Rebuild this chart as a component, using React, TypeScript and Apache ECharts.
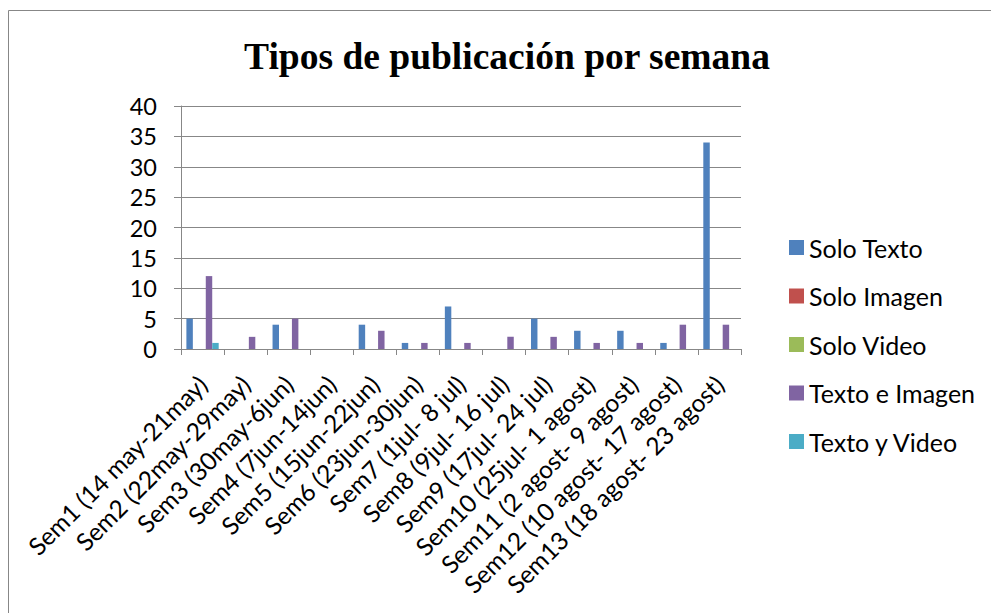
import React, { useEffect, useRef } from "react";
import * as echarts from "echarts";

const categories = [
  "Sem1 (14 may-21may)",
  "Sem2 (22may-29may)",
  "Sem3 (30may-6jun)",
  "Sem4 (7jun-14jun)",
  "Sem5 (15jun-22jun)",
  "Sem6 (23jun-30jun)",
  "Sem7 (1jul- 8 jul)",
  "Sem8 (9jul- 16 jul)",
  "Sem9 (17jul- 24 jul)",
  "Sem10 (25jul- 1 agost)",
  "Sem11 (2 agost- 9 agost)",
  "Sem12 (10 agost- 17 agost)",
  "Sem13 (18 agost- 23 agost)",
];

const soloTexto = [5, 0, 4, 0, 4, 1, 7, 0, 5, 3, 3, 1, 34];
const soloImagen = [0, 0, 0, 0, 0, 0, 0, 0, 0, 0, 0, 0, 0];
const soloVideo = [0, 0, 0, 0, 0, 0, 0, 0, 0, 0, 0, 0, 0];
const textoEImagen = [12, 2, 5, 0, 3, 1, 1, 2, 2, 1, 1, 4, 4];
const textoYVideo = [1, 0, 0, 0, 0, 0, 0, 0, 0, 0, 0, 0, 0];

const seriesNames = ["Solo Texto", "Solo Imagen", "Solo Video", "Texto e Imagen", "Texto y Video"];
const seriesColors = ["#4F81BD", "#C0504D", "#9BBB59", "#8064A2", "#4BACC6"];
const seriesData = [soloTexto, soloImagen, soloVideo, textoEImagen, textoYVideo];

const FONT = "Lato, 'Noto Sans', sans-serif";
const GRAY = "#878787";

export default function App() {
  const ref = useRef<HTMLDivElement>(null);
  useEffect(() => {
    if (!ref.current) return;
    const chart = echarts.init(ref.current, undefined, { renderer: "svg" });
    chart.setOption({
      animation: false,
      backgroundColor: "#ffffff",
      title: {
        text: "Tipos de publicación por semana",
        left: 502,
        top: 32,
        textAlign: "center",
        textStyle: {
          fontFamily: "'Liberation Serif', 'Times New Roman', serif",
          fontWeight: "bold",
          fontSize: 37.5,
          color: "#000",
        },
      },
      graphic: [
        {
          type: "rect",
          shape: { x: 8.5, y: 10.5, width: 1200, height: 900 },
          style: { fill: "none", stroke: GRAY, lineWidth: 1 },
          silent: true,
        },
      ],
      legend: {
        orient: "vertical",
        left: 784,
        top: 230,
        itemWidth: 15,
        itemHeight: 15,
        itemGap: 23.5,
        icon: "rect",
        textStyle: { fontFamily: FONT, fontSize: 25, color: "#000" },
        data: seriesNames,
      },
      grid: { left: 181, top: 106, right: 250, bottom: 264, containLabel: false },
      xAxis: {
        type: "category",
        data: categories,
        axisLine: { show: true, lineStyle: { color: GRAY, width: 1 } },
        axisTick: { show: true, length: 6, alignWithLabel: false, lineStyle: { color: GRAY } },
        axisLabel: {
          interval: 0,
          rotate: 45,
          margin: 31,
          fontFamily: FONT,
          fontSize: 24.5,
          color: "#000",
        },
      },
      yAxis: {
        type: "value",
        min: 0,
        max: 40,
        interval: 5,
        axisLine: { show: true, lineStyle: { color: GRAY, width: 1 } },
        axisTick: { show: true, length: 7, lineStyle: { color: GRAY } },
        splitLine: { show: true, lineStyle: { color: GRAY, width: 1 } },
        axisLabel: { margin: 24, fontFamily: FONT, fontSize: 23.5, color: "#000" },
      },
      series: seriesNames.map((name, i) => ({
        name,
        type: "bar",
        data: seriesData[i],
        barGap: "0%",
        barCategoryGap: "25%",
        itemStyle: { color: seriesColors[i] },
      })),
    });
    return () => chart.dispose();
  }, []);
  return (
    <div
      ref={ref}
      style={{ position: "absolute", left: 0, top: 0, width: 991, height: 613 }}
    />
  );
}
